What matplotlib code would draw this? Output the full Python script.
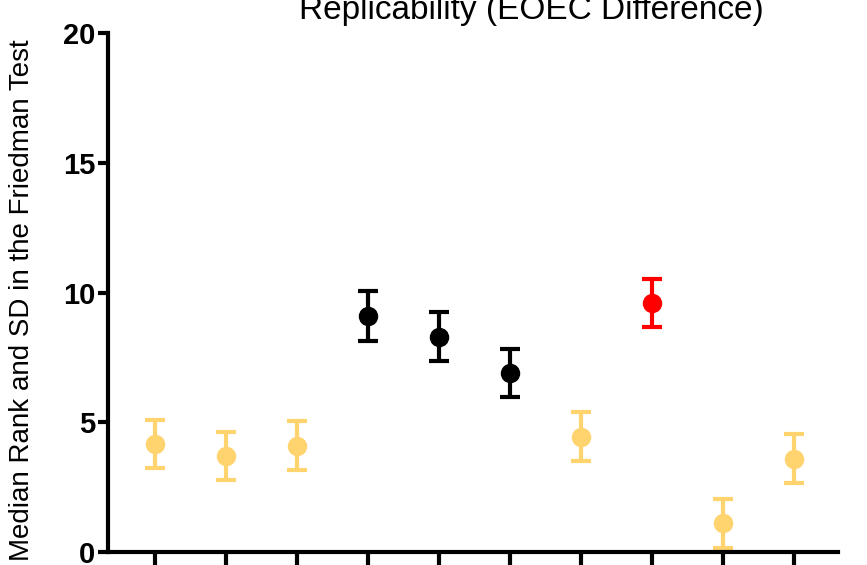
import matplotlib.pyplot as plt

plt.rcParams['font.family'] = ['Liberation Sans', 'DejaVu Sans']

positions = [1, 2, 3, 4, 5, 6, 7, 8, 9, 10]
medians = [4.15, 3.7, 4.1, 9.1, 8.3, 6.9, 4.45, 9.6, 1.1, 3.6]
sds = [0.93, 0.93, 0.93, 0.95, 0.93, 0.93, 0.95, 0.93, 0.93, 0.93]
colors = ['#FFD36E', '#FFD36E', '#FFD36E', 'black', 'black', 'black',
          '#FFD36E', '#FF0000', '#FFD36E', '#FFD36E']

fig = plt.figure(figsize=(8.67, 5.65), dpi=100)
ax = fig.add_axes([108 / 867, 1 - 552 / 565, (838 - 108) / 867, (552 - 33) / 565])

for x, m, s, c in zip(positions, medians, sds, colors):
    ax.errorbar(x, m, yerr=s, fmt='o', color=c, ecolor=c, markersize=13,
                elinewidth=3, capsize=7, capthick=3)

ax.set_xlim(0.34, 10.62)
ax.set_ylim(0, 20)
ax.set_xticks(positions)
ax.set_xticklabels([])
ax.set_yticks([0, 5, 10, 15, 20])
ax.set_yticklabels(['0', '5', '10', '15', '20'], fontsize=21, fontweight='bold')

for side in ['top', 'right']:
    ax.spines[side].set_visible(False)
for side in ['left', 'bottom']:
    ax.spines[side].set_linewidth(3)
ax.tick_params(axis='y', length=7, width=3, pad=2)
ax.tick_params(axis='x', length=10, width=3)

fig.text(22 / 867, 1 - 300 / 565, 'Median Rank and SD in the Friedman Test',
         fontsize=20, rotation=90, ha='center', va='center')
fig.text(531 / 867, 1 - 19 / 565, 'Replicability (EOEC Difference)', fontsize=24,
         ha='center', va='baseline')

fig.savefig('out.png', dpi=100)
